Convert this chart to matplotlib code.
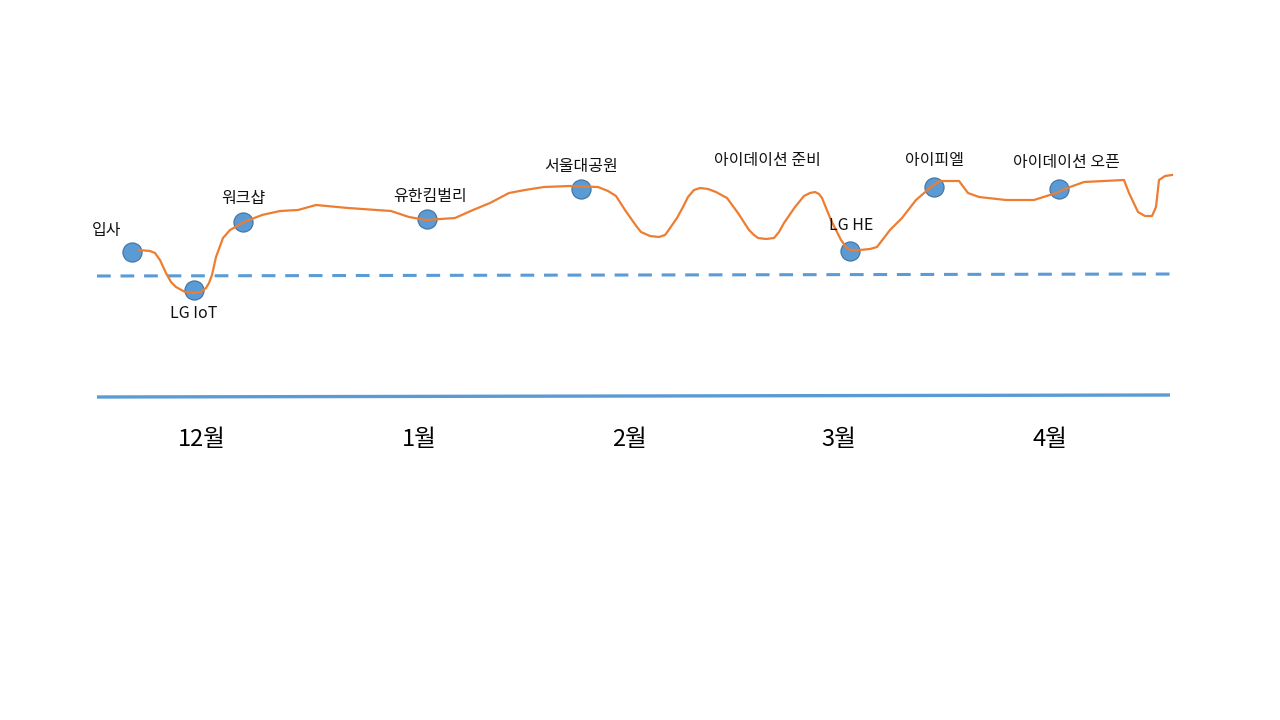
import matplotlib
matplotlib.use("Agg")
import matplotlib.pyplot as plt

plt.rcParams['font.family'] = ['Noto Sans CJK KR', 'DejaVu Sans']

# mood curve, traced in picture pixels (x right, y down)
curve_x = [139, 150, 155, 160, 166, 171, 176, 185, 193, 201, 206, 209, 212, 216, 223,
           230, 244, 262, 280, 298, 316, 348, 391, 409, 426, 455, 473, 490, 509, 525,
           544, 570, 598, 608, 616, 625, 632, 637, 641, 650, 659, 665, 668, 677, 683,
           688, 694, 700, 708, 716, 727, 738, 749, 754, 758, 766, 774, 779, 784, 795,
           804, 810, 815, 819, 822, 831, 841, 846, 850, 860, 870, 877, 890, 902, 916,
           931, 940, 959, 968, 979, 1006, 1034, 1056, 1070, 1084, 1124, 1129, 1138, 1145,
           1152, 1156, 1159, 1165, 1172]
curve_y = [250, 251, 253, 260, 273, 282, 287, 292, 293, 292, 288, 283, 275, 257, 238,
           230, 222, 215, 211, 210, 205, 208, 211, 217, 220, 218, 210, 203, 193, 190,
           187, 186, 187, 191, 196, 210, 220, 227, 232, 236, 237, 235, 231, 218, 207,
           197, 190, 188, 189, 192, 198, 213, 230, 235, 238, 239, 238, 232, 223, 207,
           196, 193, 192, 194, 198, 220, 240, 247, 250, 250, 249, 247, 230, 218, 200,
           187, 181, 181, 193, 197, 200, 200, 193, 187, 182, 180, 193, 212, 216,
           216, 207, 180, 176, 175]

events = ['입사', 'LG IoT', '워크샵', '유한킴벌리', '서울대공원', 'LG HE', '아이피엘', '아이데이션 오픈']
event_x = [132, 194, 243, 427, 581, 850, 934, 1059]
event_y = [252, 290, 222, 219, 189, 251, 187, 189]
label_x = [107, 194, 243, 430, 581, 851, 935, 1066]
label_y = [231, 313, 198, 196, 166, 225, 161, 163]

extra_label = '아이데이션 준비'
extra_pos = (767, 161)

months = ['12월', '1월', '2월', '3월', '4월']
month_x = [202, 419, 629, 839, 1050]
month_y = 440

fig = plt.figure(figsize=(12.8, 7.2), dpi=100)
ax = fig.add_axes([0, 0, 1, 1])
ax.set_xlim(0, 1280)
ax.set_ylim(720, 0)
ax.axis('off')

blue = '#5B9BD5'
ax.plot([97, 1170], [276, 274], color=blue, lw=2.2, dashes=(4.5, 3.2))
ax.plot([97, 1170], [397, 395], color=blue, lw=2.4, solid_capstyle='butt')

ax.scatter(event_x, event_y, s=190, color=blue, edgecolor='#41719C', linewidth=0.8, zorder=2)
ax.plot(curve_x, curve_y, color='#ED7D31', lw=1.6, zorder=3, solid_joinstyle='round')

for name, lx, ly in zip(events, label_x, label_y):
    ax.text(lx, ly, name, fontsize=11.5, ha='center', va='center', color='#111111', zorder=4)
ax.text(extra_pos[0], extra_pos[1], extra_label, fontsize=11.5, ha='center', va='center',
        color='#111111')

for m, mx in zip(months, month_x):
    ax.text(mx, month_y, m, fontsize=17, ha='center', va='center', color='black')

fig.savefig('out.png', dpi=100)
plt.close(fig)
